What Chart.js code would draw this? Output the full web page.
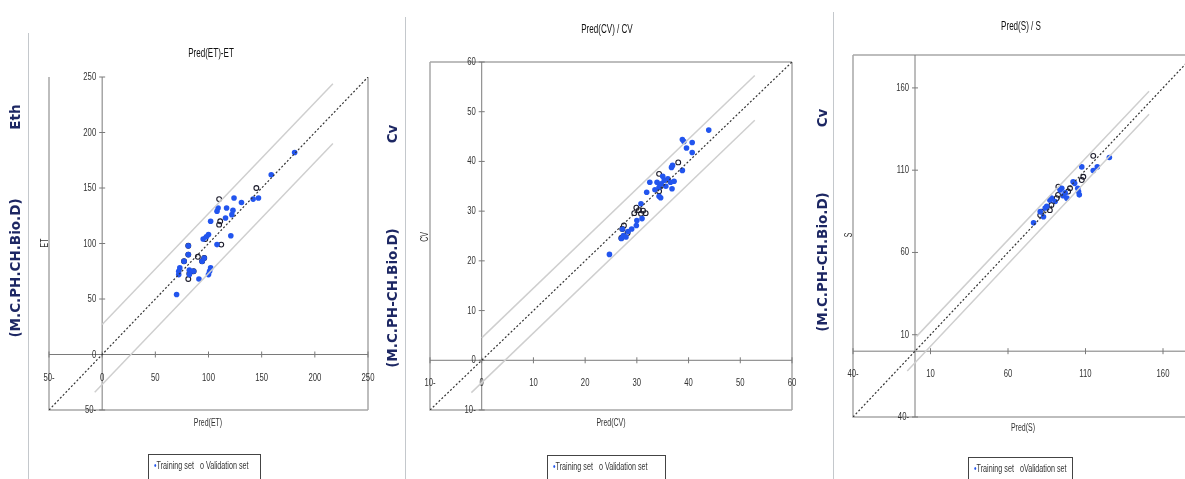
<!DOCTYPE html>
<html>
<head>
<meta charset="utf-8">
<script src="https://cdn.jsdelivr.net/npm/chart.js@4"></script>
<style>
  body { margin: 0; width: 1185px; height: 479px; overflow: hidden; background: #fff; position: relative;
         font-family: 'Liberation Sans', sans-serif; }
  canvas { position: absolute; top: 0; }
  .t { position: absolute; white-space: nowrap; color: #222; transform: translate(-50%, -50%); }
  .rot { transform: translate(-50%, -50%) rotate(-90deg); }
  .side { font-family: 'DejaVu Sans', sans-serif; font-weight: bold; font-size: 13.5px; color: #1d2763; }
  .title { font-size: 13px; color: #111; transform: translate(-50%, -50%) scaleX(0.62); }
  .ax { font-size: 10px; color: #333; transform: translate(-50%, -50%) scaleX(0.7); }
  .ax.rot { transform: translate(-50%, -50%) rotate(-90deg) scaleX(0.7); }
  .vline { position: absolute; width: 0; border-left: 1.5px solid #c4c8cc; bottom: 0; }
  .legend { position: absolute; height: 30px; border: 1.5px solid #444; box-sizing: border-box;
            font-size: 10px; color: #333; padding: 5px 0 0 5px; white-space: nowrap; }
  .legend span { display: inline-block; transform: scaleX(0.72); transform-origin: left center; }
  .legend b { color: #2255ee; font-weight: normal; }
</style>
</head>
<body>

<div class="vline" style="left:28px; top:33px;"></div>
<div class="vline" style="left:405px; top:17px;"></div>
<div class="vline" style="left:833px; top:12px;"></div>

<canvas id="c1" width="400" height="479" style="left:0px"></canvas>
<canvas id="c2" width="420" height="479" style="left:400px"></canvas>
<canvas id="c3" width="380" height="479" style="left:820px"></canvas>

<!-- side labels -->
<div class="t rot side" style="left:15px; top:117px;">Eth</div>
<div class="t rot side" style="left:15px; top:268px;">(M.C.PH.CH.Bio.D)</div>
<div class="t rot side" style="left:392px; top:134px;">Cv</div>
<div class="t rot side" style="left:392px; top:298px;">(M.C.PH-CH.Bio.D)</div>
<div class="t rot side" style="left:822px; top:118px;">Cv</div>
<div class="t rot side" style="left:822px; top:262px;">(M.C.PH-CH.Bio.D)</div>

<!-- titles -->
<div class="t title" style="left:211px; top:52px;">Pred(ET)-ET</div>
<div class="t title" style="left:607px; top:28px;">Pred(CV) / CV</div>
<div class="t title" style="left:1021px; top:25px;">Pred(S) / S</div>

<!-- axis titles -->
<div class="t rot ax" style="left:44px; top:243px;">ET</div>
<div class="t ax" style="left:208px; top:422px;">Pred(ET)</div>
<div class="t rot ax" style="left:424px; top:237px;">CV</div>
<div class="t ax" style="left:611px; top:422px;">Pred(CV)</div>
<div class="t rot ax" style="left:848px; top:235px;">S</div>
<div class="t ax" style="left:1023px; top:427px;">Pred(S)</div>

<!-- legends -->
<div class="legend" style="left:148px; top:454px; width:113px;"><span><b>&#8226;</b>Training set &nbsp;&nbsp;o Validation set</span></div>
<div class="legend" style="left:547px; top:455px; width:119px;"><span><b>&#8226;</b>Training set &nbsp;&nbsp;o Validation set</span></div>
<div class="legend" style="left:968px; top:457px; width:105px;"><span><b>&#8226;</b>Training set &nbsp;&nbsp;oValidation set</span></div>

<script>
// ---- Pred(ET) - ET ----
const etTrainX = [70, 72, 72, 73, 81, 81, 77, 82, 82, 86, 91, 94, 96, 100, 101, 102, 95, 98, 100, 102, 108, 109, 108, 116, 117, 121, 122, 123, 124, 131, 142, 147, 159, 181];
const etTrainY = [54, 72, 75, 78, 90, 98, 84, 76, 72, 75, 68, 84, 87, 72, 75, 78, 104, 106, 108, 120, 129, 132, 99, 123, 132, 107, 126, 130, 141, 137, 140, 141, 162, 182];
const etValX = [81, 81, 77, 82, 86, 81, 90, 94, 96, 97, 110, 110, 111, 112, 145];
const etValY = [90, 98, 84, 73, 75, 68, 88, 84, 87, 104, 140, 117, 120, 99, 150];
const etBandX = [0, 217];
const etUpper = [27, 244];
const etLowerX = [-7, 217];
const etLower = [-34, 190];
const etTicks = [-50, 0, 50, 100, 150, 200, 250];

// ---- Pred(CV) / CV ----
const cvTrainX = [24.7, 27.0, 27.4, 27.9, 27.2, 28.3, 29.0, 29.9, 30.0, 30.8, 31.0, 31.9, 32.5, 33.5, 33.9, 34.3, 34.7, 35.0, 35.3, 34.3, 34.6, 35.6, 36.0, 36.5, 36.8, 37.2, 36.7, 36.9, 38.8, 38.8, 39.1, 39.6, 40.7, 40.7, 43.9];
const cvTrainY = [21.3, 24.5, 25.1, 24.8, 26.4, 25.9, 26.4, 27.1, 28.1, 31.5, 28.5, 33.8, 35.8, 34.3, 35.8, 34.8, 35.5, 37.0, 36.2, 33.0, 32.7, 35.0, 36.5, 35.8, 34.5, 36.0, 38.8, 39.2, 38.2, 44.4, 44.0, 42.7, 43.8, 41.8, 46.3];
const cvValX = [27.0, 27.2, 27.5, 28.2, 29.5, 29.9, 30.4, 30.8, 31.2, 31.7, 34.3, 34.3, 34.6, 38.0];
const cvValY = [24.6, 26.4, 27.1, 25.6, 29.6, 30.7, 30.2, 29.5, 30.1, 29.6, 34.0, 37.5, 35.0, 39.8];
const cvBandX = [0, 52.8];
const cvUpper = [4.5, 57.3];
const cvLowerX = [-2, 52.8];
const cvLower = [-6.5, 48.3];
const cvTicks = [-10, 0, 10, 20, 30, 40, 50, 60];

// ---- Pred(S) / S ----
const sTrainX = [76.5, 80.8, 82.9, 84.0, 85.0, 87.0, 88.0, 90.4, 93.6, 94.7, 95.6, 96.9, 98.0, 102.0, 103.0, 105.0, 106.0, 105.5, 107.6, 115.0, 117.6, 125.4];
const sTrainY = [78.0, 84.8, 81.7, 87.0, 88.0, 91.9, 93.0, 91.0, 98.0, 99.0, 94.5, 96.2, 93.0, 103.0, 102.0, 99.0, 95.0, 97.0, 112.0, 109.8, 112.0, 117.7];
const sValX = [80.8, 81.8, 87.0, 88.0, 91.4, 92.3, 92.5, 98.8, 100.0, 107.6, 108.6, 115.0];
const sValY = [82.7, 84.8, 85.7, 88.8, 93.0, 95.0, 100.0, 97.0, 99.0, 104.0, 106.0, 118.7];
const sBandX = [1, 151];
const sUpper = [9, 158];
const sLowerX = [-5, 151];
const sLower = [-12, 144];
const sTicks = [-40, 10, 60, 110, 160];

function pts(xs, ys) {
    return xs.map((x, i) => ({ x: x, y: ys[i] }));
}

// the source shows negative numbers with the minus sign trailing
function tickText(v) {
    return v < 0 ? Math.abs(v) + '-' : String(v);
}

function narrowText(ctx, text, px, py, align) {
    ctx.save();
    ctx.translate(px, py);
    ctx.scale(0.7, 1);
    ctx.textAlign = align;
    ctx.fillText(text, 0, 0);
    ctx.restore();
}

// frame, zero axes and tick labels drawn from the chart's own scales
const framePlugin = {
    id: 'frame',
    beforeDatasetsDraw(chart, args, opts) {
        const { ctx, chartArea: a, scales: { x, y } } = chart;
        const x0 = x.getPixelForValue(0);
        const y0 = y.getPixelForValue(0);
        ctx.save();
        ctx.strokeStyle = '#a8a8a8';
        ctx.lineWidth = 1.5;
        ctx.beginPath();
        if (opts.top) {
            ctx.moveTo(a.left, a.top);
            ctx.lineTo(a.right, a.top);
        }
        ctx.moveTo(a.left, a.top);
        ctx.lineTo(a.left, a.bottom);
        ctx.lineTo(a.right, a.bottom);
        ctx.moveTo(a.right, a.top);
        ctx.lineTo(a.right, a.bottom);
        ctx.stroke();

        ctx.strokeStyle = '#7a7a7a';
        ctx.lineWidth = 1;
        ctx.beginPath();
        ctx.moveTo(a.left, y0);
        ctx.lineTo(a.right, y0);
        ctx.moveTo(x0, a.top);
        ctx.lineTo(x0, a.bottom);
        opts.ticks.forEach(v => {
            const px = x.getPixelForValue(v);
            ctx.moveTo(px, y0 - 3);
            ctx.lineTo(px, y0 + 3);
            const py = y.getPixelForValue(v);
            ctx.moveTo(x0 - 3, py);
            ctx.lineTo(x0 + 3, py);
        });
        ctx.stroke();

        ctx.fillStyle = '#333';
        ctx.font = "11px 'Liberation Sans', sans-serif";
        ctx.textBaseline = 'middle';
        opts.ticks.forEach(v => {
            narrowText(ctx, tickText(v), x.getPixelForValue(v), y0 + 23, 'center');
            narrowText(ctx, tickText(v), x0 - 6, y.getPixelForValue(v), 'right');
        });
        ctx.restore();
    }
};

function makeChart(id, cfg) {
    new Chart(document.getElementById(id), {
        type: 'scatter',
        data: {
            datasets: [
                {
                    type: 'line', data: pts(cfg.bandX, cfg.upper),
                    borderColor: '#cfcfcf', borderWidth: 1.5, pointRadius: 0
                },
                {
                    type: 'line', data: pts(cfg.lowerX, cfg.lower),
                    borderColor: '#cfcfcf', borderWidth: 1.5, pointRadius: 0
                },
                {
                    type: 'line', data: pts([cfg.min, cfg.max], [cfg.min, cfg.max]),
                    borderColor: '#333', borderWidth: 1.2, borderDash: [2, 2], pointRadius: 0
                },
                {
                    label: 'Training set', data: pts(cfg.trainX, cfg.trainY),
                    backgroundColor: '#2255ee', borderColor: '#2255ee', pointRadius: 2.8, borderWidth: 0
                },
                {
                    label: 'Validation set', data: pts(cfg.valX, cfg.valY),
                    backgroundColor: 'rgba(255,255,255,0)', borderColor: '#1a1a2a', pointRadius: 2.4, borderWidth: 1.1
                }
            ]
        },
        options: {
            responsive: false,
            animation: false,
            devicePixelRatio: 1,
            layout: { padding: cfg.padding },
            scales: {
                x: { type: 'linear', min: cfg.min, max: cfg.max, display: false },
                y: { type: 'linear', min: cfg.min, max: cfg.max, display: false }
            },
            plugins: {
                legend: { display: false },
                tooltip: { enabled: false },
                frame: { ticks: cfg.ticks, top: cfg.top }
            }
        },
        plugins: [framePlugin]
    });
}

makeChart('c1', {
    trainX: etTrainX, trainY: etTrainY, valX: etValX, valY: etValY,
    bandX: etBandX, upper: etUpper, lowerX: etLowerX, lower: etLower,
    ticks: etTicks, min: -50, max: 250, top: false,
    padding: { left: 49, top: 77, right: 32, bottom: 69 }
});

makeChart('c2', {
    trainX: cvTrainX, trainY: cvTrainY, valX: cvValX, valY: cvValY,
    bandX: cvBandX, upper: cvUpper, lowerX: cvLowerX, lower: cvLower,
    ticks: cvTicks, min: -10, max: 60, top: true,
    padding: { left: 30, top: 62, right: 28, bottom: 69 }
});

makeChart('c3', {
    trainX: sTrainX, trainY: sTrainY, valX: sValX, valY: sValY,
    bandX: sBandX, upper: sUpper, lowerX: sLowerX, lower: sLower,
    ticks: sTicks, min: -40, max: 180, top: true,
    padding: { left: 33, top: 55, right: 6, bottom: 62 }
});
</script>
</body>
</html>
